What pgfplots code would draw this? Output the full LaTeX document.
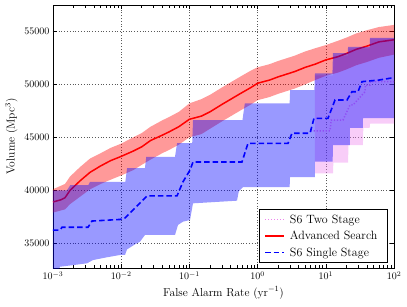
\documentclass[border=0pt]{standalone}
\usepackage{pgfplots}
\pgfplotsset{compat=1.18}
\definecolor{mplviolet}{RGB}{238,130,238}
\definecolor{mplred}{RGB}{255,0,0}
\definecolor{mplblue}{RGB}{0,0,255}
\begin{document}
\begin{tikzpicture}
\begin{axis}[
  scale only axis,
  width=341pt, height=263pt,
  xmode=log,
  xmin=1e-3, xmax=1e2,
  ymin=32670, ymax=57480,
  ytick={35000,40000,45000,50000,55000},
  scaled y ticks=false,
  yticklabel style={/pgf/number format/1000 sep={}},
  tick label style={font=\fontsize{10}{12}\selectfont},
  label style={font=\fontsize{11.5}{14}\selectfont},
  xlabel={False Alarm Rate (yr$^{-1}$)},
  ylabel={Volume (Mpc$^3$)},
  grid=major,
  major grid style={dash pattern=on 0.8pt off 2pt, black!65, line width=0.45pt},
  axis line style={line width=0.8pt},
  tick style={black, line width=0.5pt},
  tick align=inside,
  legend cell align=left,
  legend image code/.code={\draw[#1] (0pt,0pt) -- (19pt,0pt);},
  legend style={at={(0.982,0.019)}, anchor=south east,
    font=\fontsize{12}{14}\selectfont, draw=black, line width=0.8pt,
    rounded corners=0pt, inner xsep=5pt, inner ysep=3pt, row sep=2.5pt,
    nodes={inner xsep=5pt}},
]
% ---------- S6 Two Stage band ----------
\addplot[forget plot, draw=none, fill=mplviolet, fill opacity=0.4] coordinates {
 (6.944,50850) (12.75,50850) (13.0,52700) (21.2,52700) (21.5,53400) (44.0,53400) (44.5,54300) (100,54300)
 (100,46300) (44.5,46300) (44.0,45900) (35.5,45900) (35.0,44270) (21.5,44270) (21.2,42600) (12.9,42600) (12.75,41600) (6.944,41600)
} -- cycle;
\addplot[mplviolet, line width=1.5pt, dash pattern=on 1.2pt off 1.8pt] coordinates {
 (6.0,45600) (11.5,45600) (12.0,46630) (17.87,46630) (22.63,48050) (25.06,48050)
 (37.57,49300) (38.0,49930) (44.48,49930) (45.0,50245) (100,50245)
};
\addlegendentry{S6 Two Stage}
% ---------- Advanced Search band ----------
\addplot[forget plot, draw=none, fill=mplred, fill opacity=0.4] coordinates {
 (0.001,40100) (0.0015,40600) (0.00178,41300) (0.0025,42200) (0.0035,43000) (0.005,43500)
 (0.007,44000) (0.01,44400) (0.015,45000) (0.02,45400) (0.027,46000) (0.04,46600)
 (0.05,46900) (0.07,47400) (0.1,48200) (0.15,48600) (0.2,49000) (0.3,49700)
 (0.55,50700) (0.8,51300) (1.0,51600) (1.5,51900) (2,52200) (3.5,52700) (5,53100)
 (7,53400) (10,53700) (15,54100) (20,54400) (28,54800) (40,55100) (60,55400) (100,55600)
 (100,52800) (60,52500) (40,52100) (28,51800) (20,51400) (15,51100) (10,50800) (7,50400)
 (5,50000) (3.5,49600) (2,49100) (1.5,48800) (1.0,48500) (0.8,48100) (0.55,47500)
 (0.3,46500) (0.2,45800) (0.15,45300) (0.1,45000) (0.07,44300) (0.05,43800) (0.04,43500)
 (0.027,42900) (0.02,42400) (0.015,41900) (0.01,41400) (0.007,41000) (0.005,40600)
 (0.0035,40100) (0.0025,39400) (0.00178,38700) (0.0015,38200) (0.001,37900)
} -- cycle;
\addplot[mplred, line width=1.5pt] coordinates {
 (0.001,38900) (0.0013,39100) (0.0015,39300) (0.00178,40000) (0.0025,40900) (0.0035,41700)
 (0.005,42300) (0.007,42800) (0.01,43200) (0.015,43700) (0.02,44100) (0.027,44700)
 (0.04,45200) (0.05,45500) (0.07,46000) (0.1,46700) (0.15,47000) (0.2,47400) (0.3,48100)
 (0.55,49100) (0.8,49700) (1.0,50100) (1.5,50400) (2,50700) (3.5,51200) (5,51600)
 (7,51900) (10,52300) (15,52600) (20,52900) (28,53300) (40,53600) (60,54000) (100,54200)
};
\addlegendentry{Advanced Search}
% ---------- S6 Single Stage band ----------
\addplot[forget plot, draw=none, fill=mplblue, fill opacity=0.4] coordinates {
 (0.001,40000) (0.0016,40000) (0.0018,40500) (0.0033,40500) (0.0035,40800) (0.0115,40800)
 (0.0122,42100) (0.0223,42100) (0.0233,43150) (0.0615,43150) (0.066,44460) (0.110,44460)
 (0.113,46630) (0.60,46630) (0.65,48210) (2.95,48210) (3.0,49460) (6.8,49460)
 (6.95,51040) (12.5,51040) (12.75,52950) (21.0,52950) (21.2,53520) (44.0,53520)
 (44.5,54370) (100,54370)
 (100,46820) (35.12,46820) (35.0,45880) (22.63,45880) (22.5,44270) (12.75,44270)
 (12.6,42700) (6.944,42700) (6.9,41250) (2.987,41250) (2.95,40310) (0.6107,40310)
 (0.53,39900) (0.4987,39020) (0.1129,38770) (0.1021,37200) (0.08055,37040) (0.06805,36730)
 (0.0615,35790) (0.02234,35790) (0.01886,35150) (0.01593,34900) (0.01216,34420)
 (0.01137,33900) (0.009603,33900) (0.006188,33680) (0.003859,33420) (0.003152,33110)
 (0.001266,32790) (0.001184,32290) (0.001,32290)
} -- cycle;
\addplot[mplblue, line width=1.6pt, dash pattern=on 5.5pt off 3pt] coordinates {
 (0.001,36250) (0.001268,36250) (0.001355,36510) (0.003258,36510) (0.003733,37100)
 (0.009594,37250) (0.01135,37390) (0.02388,39470) (0.0658,39470) (0.0805,40800)
 (0.102,41900) (0.113,42670) (0.5902,42670) (0.7228,44430) (2.793,44430) (3.192,45380)
 (5.861,45380) (6.714,46790) (10.76,46790) (13.65,48520) (20.46,48520) (24.21,49300)
 (29.65,49300) (33.96,50250) (60,50400) (93.54,50600) (100,50600)
};
\addlegendentry{S6 Single Stage}
\end{axis}
\pgfresetboundingbox
\path[use as bounding box] ([shift={(-53pt,-38pt)}]current axis.south west) rectangle ([shift={(13pt,5pt)}]current axis.north east);
\end{tikzpicture}
\end{document}
